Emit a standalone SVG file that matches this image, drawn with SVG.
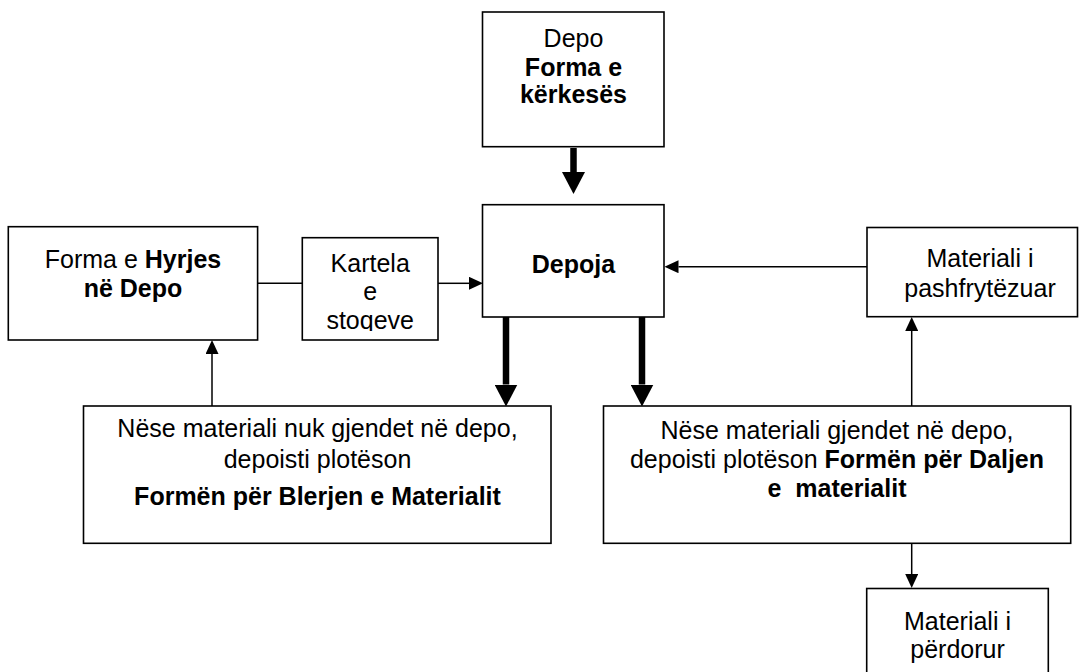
<svg xmlns="http://www.w3.org/2000/svg" width="1079" height="672" viewBox="0 0 1079 672">
<style>
.box{fill:#fff;stroke:#000;stroke-width:1.6}
.t{font-family:"Liberation Sans",Arial,sans-serif;font-size:25px;fill:#000;text-anchor:middle}
.b{font-weight:bold}
.thin{stroke:#000;stroke-width:1.5;fill:none}
.thick{stroke:#000;stroke-width:6.5;fill:none}
</style>
<defs>
<marker id="ah" markerUnits="userSpaceOnUse" markerWidth="14" markerHeight="13" refX="0" refY="6.5" orient="auto">
<path d="M0,0 L14,6.5 L0,13 z" fill="#000"/>
</marker>
<marker id="ahb" markerUnits="userSpaceOnUse" markerWidth="22" markerHeight="23" refX="0" refY="11.5" orient="auto">
<path d="M0,0 L22,11.5 L0,23 z" fill="#000"/>
</marker>
<clipPath id="kclip"><rect x="303" y="238" width="135" height="93"/></clipPath>
</defs>
<rect width="1079" height="672" fill="#fff"/>

<g id="connectors">
<line class="thick" x1="573.5" y1="148" x2="573.5" y2="172" marker-end="url(#ahb)"/>
<line class="thick" x1="506" y1="317" x2="506" y2="384.5" marker-end="url(#ahb)"/>
<line class="thick" x1="642" y1="317" x2="642" y2="384.5" marker-end="url(#ahb)"/>
<line class="thin" x1="248" y1="283.3" x2="302.3" y2="283.3"/>
<line class="thin" x1="438" y1="283.3" x2="469" y2="283.3" marker-end="url(#ah)"/>
<line class="thin" x1="867" y1="266.7" x2="678.5" y2="266.7" marker-end="url(#ah)"/>
<line class="thin" x1="212" y1="406" x2="212" y2="354" marker-end="url(#ah)"/>
<line class="thin" x1="911.7" y1="406" x2="911.7" y2="331" marker-end="url(#ah)"/>
<line class="thin" x1="911.7" y1="543.3" x2="911.7" y2="574" marker-end="url(#ah)"/>
</g>

<g id="forma-kerkeses">
<rect class="box" x="482.5" y="12" width="181.5" height="134.7"/>
<text class="t" x="573.5" y="46.5">Depo</text>
<text class="t b" x="573.5" y="75.5">Forma e</text>
<text class="t b" x="573.5" y="103">kërkesës</text>
</g>

<g id="depoja">
<rect class="box" x="482.5" y="204.7" width="181.5" height="112.3"/>
<text class="t b" x="573.5" y="272.5">Depoja</text>
</g>

<g id="forma-hyrjes">
<rect class="box" x="8.3" y="226.7" width="249.3" height="113.3"/>
<text class="t" x="133" y="268.3">Forma e <tspan class="b">Hyrjes</tspan></text>
<text class="t b" x="133" y="297.3">në Depo</text>
</g>

<g id="kartela">
<rect class="box" x="302.3" y="237.7" width="135.7" height="102.3"/>
<g clip-path="url(#kclip)">
<text class="t" x="370.2" y="271.7">Kartela</text>
<text class="t" x="370.2" y="300">e</text>
<text class="t" x="370.2" y="328.8">stoqeve</text>
</g>
</g>

<g id="materiali-pashfrytezuar">
<rect class="box" x="867" y="227.5" width="210.5" height="89.2"/>
<text class="t" x="980" y="267.3">Materiali i</text>
<text class="t" x="980" y="296.7">pashfrytëzuar</text>
</g>

<g id="blerja">
<rect class="box" x="83.5" y="406" width="467.5" height="137.3"/>
<text class="t" x="317.5" y="436.7">Nëse materiali nuk gjendet në depo,</text>
<text class="t" x="317.5" y="468">depoisti plotëson</text>
<text class="t b" x="317.5" y="505">Formën për Blerjen e Materialit</text>
</g>

<g id="dalja">
<rect class="box" x="603.5" y="406" width="467.2" height="137.3"/>
<text class="t" x="837" y="439.3">Nëse materiali gjendet në depo,</text>
<text class="t" x="837" y="467.7">depoisti plotëson <tspan class="b">Formën për Daljen</tspan></text>
<text class="t b" x="837" y="496.7">e&#160; materialit</text>
</g>

<g id="materiali-perdorur">
<rect class="box" x="866.7" y="588.5" width="181.6" height="95"/>
<text class="t" x="957.5" y="629.5">Materiali i</text>
<text class="t" x="957.5" y="657.5">përdorur</text>
</g>
</svg>
